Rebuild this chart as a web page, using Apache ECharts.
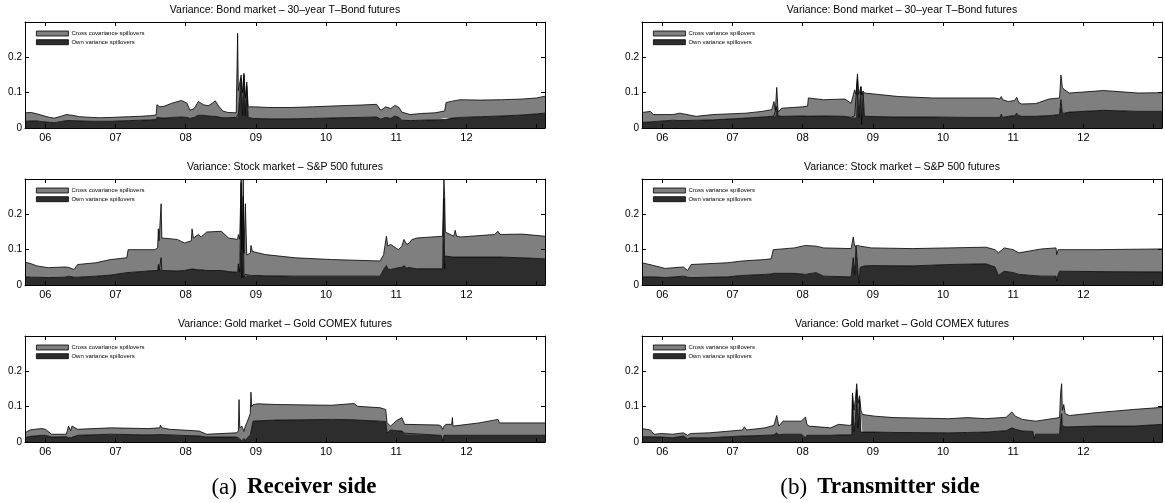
<!DOCTYPE html>
<html>
<head>
<meta charset="utf-8">
<script src="https://cdn.jsdelivr.net/npm/echarts@6/dist/echarts.min.js"></script>
<style>
  html, body { margin: 0; padding: 0; background: #fff; }
  #main { width: 1165px; height: 503px; }
</style>
</head>
<body>
<div id="main"></div>
<script>
// axis ticks (decimal years) and labels
const yearTicks = [2006, 2007, 2008, 2009, 2010, 2011, 2012, 2013];
const yearLabels = [2006, 2007, 2008, 2009, 2010, 2011, 2012];
const yLabels = [0, 0.1, 0.2];

// (a) receiver side - bond market
const recBondDates = [2005.71, 2005.80, 2005.88, 2005.95, 2006.06, 2006.13, 2006.22, 2006.30, 2006.38, 2006.49, 2006.65, 2006.77, 2006.95, 2007.06, 2007.20, 2007.34, 2007.50, 2007.58, 2007.59, 2007.63, 2007.70, 2007.80, 2007.94, 2008.02, 2008.06, 2008.12, 2008.18, 2008.25, 2008.32, 2008.38, 2008.42, 2008.47, 2008.53, 2008.60, 2008.72, 2008.74, 2008.75, 2008.79, 2008.81, 2008.83, 2008.85, 2008.87, 2008.89, 2008.96, 2009.20, 2009.50, 2009.81, 2010.20, 2010.50, 2010.72, 2010.78, 2010.85, 2010.92, 2010.98, 2011.04, 2011.08, 2011.20, 2011.35, 2011.55, 2011.69, 2011.71, 2011.80, 2011.91, 2012.20, 2012.50, 2012.80, 2013.00, 2013.12];
const recBondOwn = [.019, .020, .020, .018, .016, .015, .018, .021, .021, .020, .019, .019, .019, .020, .021, .022, .023, .024, .030, .029, .028, .030, .031, .030, .027, .030, .036, .036, .034, .033, .033, .031, .029, .029, .030, .030, .040, .140, .035, .150, .035, .120, .030, .027, .026, .026, .027, .029, .030, .031, .025, .030, .027, .034, .030, .022, .021, .022, .023, .024, .028, .028, .030, .032, .034, .037, .040, .042];
const recBondCross = [.024, .024, .020, .018, .014, .013, .015, .017, .015, .012, .011, .010, .011, .011, .011, .011, .012, .013, .036, .031, .034, .040, .047, .040, .023, .025, .039, .030, .029, .037, .044, .031, .019, .015, .013, .238, .065, .010, .065, .005, .050, .010, .030, .033, .032, .032, .033, .034, .035, .036, .025, .030, .028, .030, .028, .023, .017, .019, .020, .024, .044, .048, .050, .047, .046, .045, .045, .048];

// (a) receiver side - stock market
const recStockDates = [2005.71, 2005.80, 2005.88, 2006.04, 2006.28, 2006.33, 2006.41, 2006.46, 2006.72, 2006.93, 2007.16, 2007.18, 2007.56, 2007.60, 2007.61, 2007.62, 2007.64, 2007.65, 2007.66, 2007.88, 2007.98, 2008.08, 2008.09, 2008.11, 2008.18, 2008.22, 2008.30, 2008.51, 2008.61, 2008.74, 2008.75, 2008.77, 2008.79, 2008.80, 2008.82, 2008.83, 2008.85, 2008.87, 2008.92, 2008.93, 2008.95, 2009.03, 2009.14, 2009.56, 2010.08, 2010.77, 2010.82, 2010.86, 2010.88, 2010.92, 2011.03, 2011.08, 2011.11, 2011.15, 2011.19, 2011.22, 2011.29, 2011.66, 2011.68, 2011.69, 2011.70, 2011.71, 2011.82, 2011.84, 2011.86, 2011.92, 2012.40, 2012.45, 2012.48, 2012.80, 2013.12];
const recStockOwn = [.023, .022, .022, .021, .022, .025, .022, .022, .025, .028, .035, .035, .041, .041, .058, .041, .041, .077, .041, .040, .041, .045, .049, .045, .043, .043, .041, .041, .038, .036, .060, .036, .290, .020, .250, .021, .030, .027, .027, .027, .027, .027, .026, .025, .025, .025, .044, .055, .045, .044, .049, .050, .055, .048, .050, .048, .046, .046, .246, .046, .082, .082, .079, .079, .079, .079, .079, .079, .079, .077, .074];
const recStockCross = [.042, .038, .032, .028, .029, .025, .022, .036, .038, .044, .042, .065, .059, .064, .101, .084, .088, .153, .092, .089, .078, .080, .110, .088, .100, .093, .109, .111, .095, .093, .083, .094, .010, .080, .050, .069, .200, .058, .063, .085, .068, .064, .060, .052, .047, .043, .042, .083, .065, .071, .051, .060, .074, .067, .069, .080, .087, .092, .054, .204, .068, .064, .059, .076, .059, .057, .064, .073, .064, .067, .064];

// (a) receiver side - gold market
const recGoldDates = [2005.71, 2005.78, 2005.85, 2005.95, 2006.00, 2006.09, 2006.30, 2006.33, 2006.36, 2006.38, 2006.46, 2006.93, 2007.46, 2007.63, 2007.64, 2007.66, 2007.77, 2008.19, 2008.30, 2008.72, 2008.75, 2008.76, 2008.77, 2008.80, 2008.83, 2008.85, 2008.87, 2008.92, 2008.93, 2008.94, 2008.96, 2009.03, 2009.30, 2010.08, 2010.40, 2010.45, 2010.77, 2010.85, 2010.87, 2010.92, 2011.00, 2011.08, 2011.12, 2011.13, 2011.61, 2011.64, 2011.66, 2011.68, 2011.71, 2011.79, 2011.80, 2011.81, 2012.18, 2012.45, 2012.47, 2013.12];
const recGoldOwn = [.012, .016, .017, .019, .019, .014, .015, .012, .013, .016, .019, .022, .020, .021, .021, .021, .020, .017, .014, .014, .012, .012, .008, .003, .010, .004, .010, .020, .030, .040, .059, .060, .062, .064, .063, .062, .059, .058, .026, .034, .032, .031, .025, .022, .019, .019, .003, .019, .019, .019, .019, .019, .019, .019, .019, .019];
const recGoldCross = [.014, .018, .019, .019, .017, .008, .007, .033, .019, .029, .017, .018, .018, .019, .027, .019, .016, .014, .008, .012, .018, .108, .032, .042, .020, .041, .044, .060, .111, .060, .047, .048, .044, .040, .046, .039, .038, .034, .028, .011, .028, .038, .025, .023, .029, .026, .033, .026, .031, .031, .050, .026, .035, .045, .035, .035];

// (b) transmitter side - bond market
const traBondDates = [2005.71, 2005.83, 2005.87, 2006.15, 2006.25, 2006.48, 2006.72, 2007.19, 2007.42, 2007.56, 2007.59, 2007.61, 2007.63, 2007.65, 2007.70, 2008.00, 2008.07, 2008.08, 2008.30, 2008.60, 2008.69, 2008.74, 2008.76, 2008.78, 2008.80, 2008.83, 2008.84, 2008.86, 2008.88, 2009.37, 2009.85, 2010.34, 2010.73, 2010.81, 2010.83, 2010.85, 2010.93, 2011.02, 2011.05, 2011.08, 2011.12, 2011.32, 2011.51, 2011.66, 2011.68, 2011.70, 2011.73, 2011.80, 2012.29, 2012.78, 2013.12];
const traBondOwn = [.016, .017, .018, .022, .021, .022, .023, .028, .031, .033, .035, .034, .061, .034, .033, .034, .034, .035, .034, .033, .030, .035, .030, .140, .030, .117, .010, .100, .033, .031, .031, .030, .030, .030, .039, .030, .033, .035, .042, .035, .033, .033, .035, .038, .080, .042, .042, .045, .050, .047, .047];
const traBondCross = [.028, .030, .020, .016, .021, .011, .015, .014, .016, .019, .040, .016, .054, .011, .023, .026, .028, .050, .046, .049, .040, .073, .065, .013, .065, .000, .084, .005, .066, .058, .054, .055, .055, .052, .050, .050, .042, .043, .045, .037, .035, .036, .047, .047, .070, .073, .066, .054, .056, .052, .053];

// (b) transmitter side - stock market
const traStockDates = [2005.71, 2005.88, 2006.04, 2006.30, 2006.36, 2006.41, 2006.93, 2007.14, 2007.46, 2007.55, 2007.58, 2007.88, 2008.04, 2008.19, 2008.30, 2008.69, 2008.72, 2008.74, 2008.76, 2008.78, 2008.80, 2008.82, 2008.88, 2008.98, 2009.56, 2010.08, 2010.61, 2010.74, 2010.79, 2010.87, 2011.00, 2011.08, 2011.40, 2011.61, 2011.62, 2011.64, 2011.66, 2012.18, 2013.12];
const traStockOwn = [.023, .023, .021, .025, .022, .021, .023, .027, .030, .031, .033, .033, .030, .035, .025, .023, .077, .030, .110, .060, .005, .050, .054, .055, .054, .058, .060, .051, .027, .039, .035, .030, .025, .025, .011, .030, .039, .038, .037];
const traStockCross = [.040, .032, .026, .026, .019, .037, .040, .041, .042, .043, .067, .072, .082, .075, .080, .080, .059, .080, .005, .052, .103, .060, .054, .050, .049, .047, .047, .049, .064, .066, .065, .061, .077, .080, .075, .070, .066, .062, .065];

// (b) transmitter side - gold market
const traGoldDates = [2005.71, 2005.83, 2005.88, 2005.99, 2006.15, 2006.30, 2006.36, 2006.40, 2006.67, 2007.14, 2007.17, 2007.20, 2007.46, 2007.59, 2007.63, 2007.66, 2007.72, 2007.98, 2008.04, 2008.06, 2008.09, 2008.40, 2008.51, 2008.67, 2008.70, 2008.71, 2008.73, 2008.75, 2008.77, 2008.79, 2008.81, 2008.83, 2008.85, 2009.03, 2009.30, 2010.08, 2010.35, 2010.61, 2010.90, 2010.98, 2011.03, 2011.13, 2011.28, 2011.30, 2011.32, 2011.66, 2011.675, 2011.69, 2011.70, 2011.72, 2011.74, 2011.80, 2012.18, 2012.71, 2013.12];
const traGoldOwn = [.015, .015, .014, .014, .012, .017, .009, .012, .012, .017, .017, .017, .019, .020, .026, .020, .022, .022, .012, .019, .019, .019, .020, .020, .020, .130, .030, .060, .148, .040, .120, .028, .028, .028, .027, .026, .027, .028, .032, .040, .036, .031, .030, .010, .022, .022, .060, .080, .045, .045, .043, .043, .045, .045, .050];
const traGoldCross = [.023, .019, .008, .010, .010, .009, .010, .012, .014, .017, .026, .017, .021, .027, .049, .025, .037, .037, .059, .031, .026, .021, .030, .027, .030, .009, .060, .060, .017, .070, .011, .062, .050, .045, .042, .040, .042, .038, .038, .045, .037, .033, .030, .050, .037, .047, .079, .085, .045, .061, .037, .032, .038, .047, .048];

const GRAY = '#7f7f7f';
const DARK = '#2d2d2d';
const FONT = 'Liberation Sans, Arial, sans-serif';
const OWN = 'Own variance spillovers';

const panels = [
  { title: 'Variance: Bond market – 30–year T–Bond futures', col: 0, row: 0, dates: recBondDates, own: recBondOwn, cross: recBondCross, crossName: 'Cross covariance spillovers' },
  { title: 'Variance: Stock market – S&P 500 futures', col: 0, row: 1, dates: recStockDates, own: recStockOwn, cross: recStockCross, crossName: 'Cross covariance spillovers' },
  { title: 'Variance: Gold market – Gold COMEX futures', col: 0, row: 2, dates: recGoldDates, own: recGoldOwn, cross: recGoldCross, crossName: 'Cross covariance spillovers' },
  { title: 'Variance: Bond market – 30–year T–Bond futures', col: 1, row: 0, dates: traBondDates, own: traBondOwn, cross: traBondCross, crossName: 'Cross variance spillovers' },
  { title: 'Variance: Stock market – S&P 500 futures', col: 1, row: 1, dates: traStockDates, own: traStockOwn, cross: traStockCross, crossName: 'Cross variance spillovers' },
  { title: 'Variance: Gold market – Gold COMEX futures', col: 1, row: 2, dates: traGoldDates, own: traGoldOwn, cross: traGoldCross, crossName: 'Cross variance spillovers' }
];

const colLeft = [25, 642];
const rowTop = [22, 179, 336];
const W = 520, H = 106;

var chart = echarts.init(document.getElementById('main'));

var grid = [], xAxis = [], yAxis = [], series = [], legend = [], title = [];

panels.forEach(function (p, k) {
  var L = colLeft[p.col], T = rowTop[p.row];
  grid.push({ left: L, top: T, width: W, height: H, show: false });

  var xBase = {
    gridIndex: k, type: 'value', min: 2005.71, max: 2013.12, z: 10,
    axisLine: { show: true, onZero: false, lineStyle: { color: '#000', width: 1 } },
    axisTick: { show: true, inside: true, length: 4, customValues: yearTicks, lineStyle: { color: '#000' } },
    splitLine: { show: false }
  };
  xAxis.push(Object.assign({}, xBase, {
    position: 'bottom',
    axisLabel: { customValues: yearLabels, formatter: function (v) { return String(v).slice(2); }, fontSize: 11, color: '#000', fontFamily: FONT, margin: 4 }
  }));
  xAxis.push(Object.assign({}, xBase, { position: 'top', axisLabel: { show: false } }));

  var yBase = {
    gridIndex: k, type: 'value', min: 0, max: 0.3, z: 10,
    axisLine: { show: true, lineStyle: { color: '#000', width: 1 } },
    axisTick: { show: true, inside: true, length: 4, customValues: yLabels, lineStyle: { color: '#000' } },
    splitLine: { show: false }
  };
  yAxis.push(Object.assign({}, yBase, {
    position: 'left',
    axisLabel: { customValues: yLabels, formatter: function (v) { return v === 0 ? '0' : v.toFixed(1); }, fontSize: 10, color: '#000', fontFamily: FONT, margin: 3 }
  }));
  yAxis.push(Object.assign({}, yBase, { position: 'right', axisLabel: { show: false } }));

  // value column first so the stack is taken on y (x is a plain value axis too)
  series.push({
    type: 'line', name: OWN, xAxisIndex: 2 * k, yAxisIndex: 2 * k, stack: 'p' + k,
    encode: { x: 1, y: 0 },
    data: p.dates.map(function (d, i) { return [p.own[i], d]; }),
    showSymbol: false, symbol: 'none', color: DARK,
    lineStyle: { color: '#000', width: 0.8 },
    areaStyle: { color: DARK, opacity: 1 }
  });
  series.push({
    type: 'line', name: p.crossName, xAxisIndex: 2 * k, yAxisIndex: 2 * k, stack: 'p' + k,
    encode: { x: 1, y: 0 },
    data: p.dates.map(function (d, i) { return [p.cross[i], d]; }),
    showSymbol: false, symbol: 'none', color: GRAY,
    lineStyle: { color: '#000', width: 0.8 },
    areaStyle: { color: GRAY, opacity: 1 }
  });

  legend.push({
    left: L + 11, top: T + 8.5, orient: 'vertical', padding: 0,
    itemWidth: 32, itemHeight: 5, itemGap: 2.7, icon: 'rect', selectedMode: false,
    itemStyle: { borderColor: '#000', borderWidth: 0.8 },
    textStyle: { fontSize: 6, lineHeight: 5, color: '#000', fontFamily: FONT, padding: [0, 0, 0, -2] },
    data: [
      { name: p.crossName, itemStyle: { color: GRAY } },
      { name: OWN, itemStyle: { color: DARK } }
    ]
  });

  title.push({
    text: p.title, left: L + W / 2, top: T - 17, textAlign: 'center', padding: 0,
    textStyle: { fontSize: 10.5, fontWeight: 'normal', color: '#000', fontFamily: FONT }
  });
});

var capRich = {
  n: { fontFamily: 'Liberation Serif, serif', fontSize: 23, fontWeight: 'normal', color: '#000' },
  b: { fontFamily: 'Liberation Serif, serif', fontSize: 23, fontWeight: 'bold', color: '#000' }
};
title.push({ text: '{n|(a)}  {b|Receiver side}', left: 294, top: 476, textAlign: 'center', padding: 0, textStyle: { rich: capRich } });
title.push({ text: '{n|(b)}  {b|Transmitter side}', left: 880, top: 476, textAlign: 'center', padding: 0, textStyle: { rich: capRich } });

var option = {
  animation: false,
  backgroundColor: '#fff',
  title: title,
  legend: legend,
  grid: grid,
  xAxis: xAxis,
  yAxis: yAxis,
  series: series
};

option && chart.setOption(option);
</script>
</body>
</html>
